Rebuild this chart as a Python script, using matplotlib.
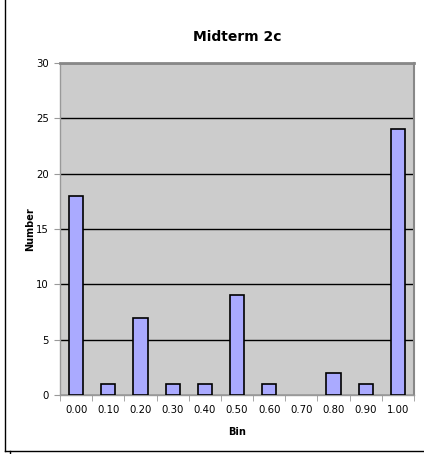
import matplotlib
matplotlib.use("Agg")
import matplotlib.pyplot as plt
from matplotlib.lines import Line2D
import numpy as np

categories = ["0.00", "0.10", "0.20", "0.30", "0.40", "0.50", "0.60", "0.70", "0.80", "0.90", "1.00"]
counts = [18, 1, 7, 1, 1, 9, 1, 0, 2, 1, 24]
yticks = [0, 5, 10, 15, 20, 25, 30]

W, H = 424, 454
fig = plt.figure(figsize=(W / 100, H / 100), dpi=100)
fig.patch.set_facecolor("white")
ax = fig.add_axes([60 / W, 1 - 395 / H, (414 - 60) / W, (395 - 63) / H])
ax.set_facecolor("#CCCCCC")

x = np.arange(len(categories))
lws = [1.2 if c > 0 else 0 for c in counts]
ax.bar(x, counts, width=0.44, color="#AAAAFF", edgecolor="black", linewidth=lws, zorder=3)
ax.set_xlim(-0.5, len(categories) - 0.5)
ax.set_ylim(0, 30)
ax.set_yticks(yticks)
ax.set_yticklabels([str(v) for v in yticks], fontsize=7.3)
ax.yaxis.grid(True, color="black", linewidth=1.0, zorder=1)
ax.set_axisbelow(True)

ax.set_xticks(x)
ax.set_xticklabels(categories, fontsize=7.3)
ax.tick_params(axis="x", length=0, pad=7)
ax.set_xticks(np.arange(-0.5, len(categories), 1), minor=True)
ax.tick_params(axis="x", which="minor", length=4, color="#999999")
ax.tick_params(axis="y", length=4, color="#999999", pad=4)

for s in ["left", "bottom"]:
    ax.spines[s].set_color("#999999")
    ax.spines[s].set_linewidth(1.0)
ax.spines["top"].set_color("#888888")
ax.spines["top"].set_linewidth(2.0)
ax.spines["right"].set_color("#888888")
ax.spines["right"].set_linewidth(1.5)

ax.set_title("Midterm 2c", fontsize=10, fontweight="bold", pad=16)
ax.set_xlabel("Bin", fontsize=7, fontweight="bold", labelpad=9)
ax.set_ylabel("Number", fontsize=7, fontweight="bold", labelpad=1)

# outer border lines (left and bottom)
fig.add_artist(Line2D([4.5 / W, 4.5 / W], [1 - 451 / H, 1.0], transform=fig.transFigure, color="black", linewidth=1.0))
fig.add_artist(Line2D([4.5 / W, 1.0], [1 - 451 / H, 1 - 451 / H], transform=fig.transFigure, color="black", linewidth=1.0))
fig.add_artist(Line2D([9.5 / W, 9.5 / W], [0.0, 1 - 451 / H], transform=fig.transFigure, color="black", linewidth=1.0))

fig.savefig("out.png", dpi=100, facecolor="white")
